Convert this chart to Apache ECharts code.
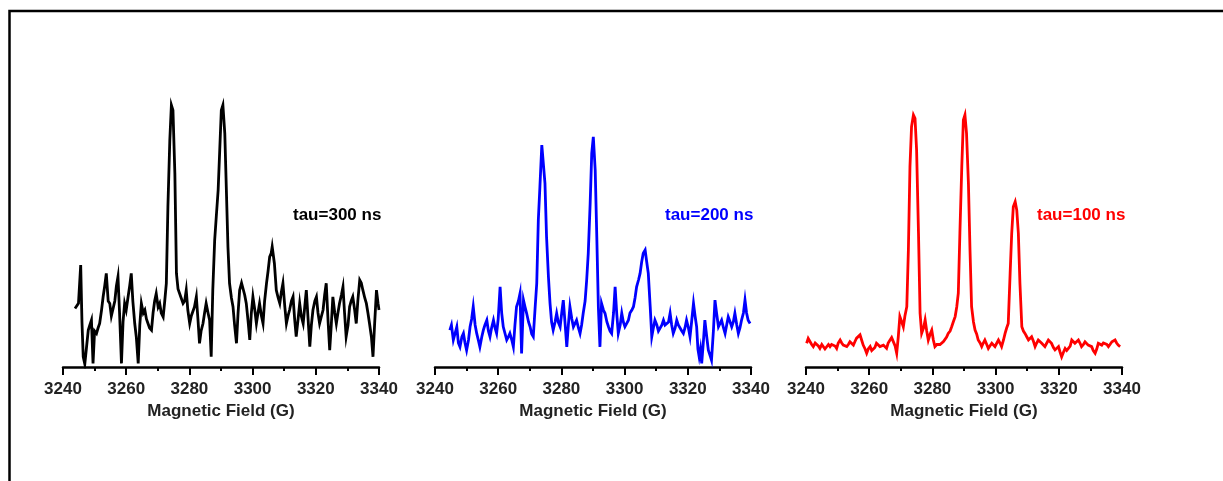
<!DOCTYPE html>
<html>
<head>
<meta charset="utf-8">
<script src="https://cdn.jsdelivr.net/npm/echarts@6/dist/echarts.min.js"></script>
<style>
html,body{margin:0;padding:0;background:#fff;}
#chart{width:1223px;height:481px;}
</style>
</head>
<body>
<div id="chart"></div>
<script>
// ---- Data ----
const xTicks = { min: 3240, max: 3340, interval: 20 };
const axisName = 'Magnetic Field (G)';
const tauLabels = ['tau=300 ns', 'tau=200 ns', 'tau=100 ns'];
const seriesColors = ['#000000', '#0000ff', '#ff0000'];

const field300 = [3243.8,3244.9,3245.6,3246.0,3246.4,3246.9,3248.0,3248.5,3249.0,3249.5,3250.0,3250.6,3251.1,3251.6,3252.2,3252.7,3253.2,3253.7,3254.3,3254.8,3255.3,3255.8,3256.4,3256.9,3257.4,3257.9,3258.5,3259.0,3259.5,3260.0,3260.6,3261.1,3261.6,3262.1,3262.7,3263.2,3263.8,3264.3,3264.8,3265.4,3265.9,3266.4,3266.9,3267.4,3268.0,3268.5,3269.0,3269.5,3270.1,3270.6,3271.1,3271.7,3272.2,3272.7,3273.2,3273.8,3274.3,3274.8,3275.4,3275.9,3276.4,3276.9,3277.4,3278.0,3278.5,3279.0,3279.5,3280.1,3280.6,3281.1,3281.6,3282.2,3282.7,3283.2,3283.7,3284.3,3284.8,3285.3,3285.9,3286.4,3286.9,3287.4,3288.0,3288.5,3289.1,3289.6,3290.1,3290.6,3291.2,3291.7,3292.2,3292.7,3293.3,3293.8,3294.3,3294.9,3295.4,3295.9,3296.5,3297.0,3297.5,3298.0,3298.6,3299.1,3299.6,3300.1,3300.7,3301.2,3301.7,3302.2,3302.8,3303.3,3303.8,3304.4,3304.9,3305.4,3305.9,3306.2,3306.9,3307.5,3308.1,3308.6,3309.1,3309.6,3310.2,3310.7,3311.2,3311.7,3312.3,3312.8,3313.3,3313.8,3314.4,3314.9,3315.4,3316.0,3316.5,3317.0,3317.5,3318.1,3318.6,3319.1,3319.7,3320.2,3320.7,3321.2,3321.8,3322.3,3322.8,3323.3,3323.9,3324.4,3324.9,3325.4,3326.0,3326.5,3327.0,3327.5,3328.1,3328.6,3329.1,3329.6,3330.2,3330.7,3331.2,3331.7,3332.3,3332.8,3333.3,3333.9,3334.4,3334.9,3335.5,3336.0,3336.5,3337.0,3337.6,3338.1,3338.6,3339.2,3339.7,3340.0];
const int300 = [19.5,21.2,34,15,3.4,1,12.3,14,15.6,1.2,12,11.2,13,14.5,19,23.4,27,31.2,22,21.2,17,16.7,22,27,30.1,18,1.2,15,21.2,19,23.4,27,31.2,22,14.5,10,1.2,14,21.2,18,19,16,14.5,13,12.3,18,22,24.5,20,21.2,18,16.7,22,27.9,53.4,75.6,87.3,85.6,64.5,31.2,26,25.6,23,21.2,22,25.6,19,14.5,17,16.7,20,23.4,16,7.9,12,14.5,18,21.2,18,15.6,3.4,25.6,42.3,50,59,72.3,85.6,87.3,77.9,59,40,27.9,23,20.1,14,7.9,18,25.6,28,27.9,24,21.2,15,9,18,23.4,19,14.5,18,21.2,17,14.5,22,27.9,32,36.7,38,40.1,34.5,25.6,23,21.2,25,27.9,20,14.5,17,19,22,23.4,16,10.1,16,21.2,17,14.5,20,25.6,17,6.8,14,19,22,23.4,18,14.5,17,19,24,27.9,15,5.6,14,23.4,18,14.5,18,21.2,24,26.7,18,10.1,14,20.1,22,23.4,19,14.5,22,29,28,25.6,23,21.2,18,14.5,10,3.4,14,25.6,21.2,19];

const field200 = [3244.7,3245.2,3245.8,3246.3,3246.9,3247.4,3247.9,3248.5,3249.0,3249.5,3250.0,3250.6,3251.1,3251.6,3252.1,3252.7,3253.2,3253.7,3254.2,3254.8,3255.3,3255.8,3256.4,3256.9,3257.4,3257.9,3258.5,3259.0,3259.5,3260.0,3260.6,3261.1,3261.6,3262.2,3262.7,3263.2,3263.7,3264.3,3264.8,3265.3,3265.8,3266.4,3266.9,3267.4,3268.0,3268.5,3269.0,3269.6,3270.1,3270.6,3271.1,3271.7,3272.2,3272.7,3273.2,3273.8,3274.3,3274.8,3275.3,3275.9,3276.4,3276.9,3277.4,3278.0,3278.5,3279.0,3279.6,3280.1,3280.6,3281.2,3281.7,3282.2,3282.7,3283.3,3283.8,3284.3,3284.8,3285.4,3285.9,3286.4,3286.9,3287.5,3288.0,3288.5,3289.1,3289.6,3290.1,3290.7,3291.2,3291.7,3292.2,3292.7,3293.3,3293.8,3294.4,3294.9,3295.4,3295.9,3296.5,3297.0,3297.5,3298.0,3298.6,3299.1,3299.6,3300.1,3300.7,3301.2,3301.7,3302.3,3302.8,3303.3,3303.8,3304.4,3304.9,3305.4,3305.9,3306.5,3307.0,3307.5,3308.1,3308.6,3309.1,3309.6,3310.2,3310.7,3311.2,3311.8,3312.3,3312.8,3313.3,3313.9,3314.4,3314.9,3315.4,3316.0,3316.5,3317.0,3317.5,3318.1,3318.6,3319.1,3319.6,3320.2,3320.7,3321.2,3321.8,3322.3,3322.8,3323.2,3323.6,3324.0,3324.4,3324.9,3325.4,3326.0,3326.5,3327.0,3327.5,3328.1,3328.6,3329.1,3329.7,3330.2,3330.7,3331.3,3331.8,3332.3,3332.8,3333.4,3333.9,3334.4,3334.9,3335.5,3336.0,3336.5,3337.0,3337.6,3338.1,3338.6,3339.1,3339.7];
const int200 = [12.3,14,9,11,13.4,8,6.7,10,11.2,8,5.6,9,13.4,16,20.1,14,11.2,9,6.7,10,12.3,14,15.6,12,10.1,13,15.6,13,11.2,16,26.7,18,13.4,11,9,10,11.2,9,6.7,14,20.1,22,24.5,4.5,22.3,20,17.9,15,13.4,11,10.1,20,27.9,49,60.1,74,74.5,61.2,43.4,30,21.2,15,12.3,15,17.9,15,13.4,18,22.3,14,6.7,14,20.1,16,13.4,14,15.6,13,11.2,14,17.9,22,29,37.9,54.5,71.2,76.7,65.6,43.4,20,6.7,21.2,19,17.9,15,13.4,12,11.2,18,26.7,18,11.2,14,17.9,15,13.4,14,15.6,18,19,20.1,23,26.7,29,31.2,35,37.9,39,35,31.2,20.1,10.1,13,15.6,14,12,12.3,14,15.6,14,13.4,15,17.9,14,11.2,13,15.6,14,13.4,12,11.2,13,15.6,13,10.1,15,21.2,17,13.4,6,3.4,6,1.2,8,15.6,10,5.6,4,2.3,12,22.3,18,13.4,14,15.6,13,11.2,14,16.7,15,13.4,15,17.9,14,11.2,13,15.6,18,22.3,18,15.6,14.5];

const field100 = [3240.2,3240.7,3241.3,3241.8,3242.3,3242.9,3243.4,3243.9,3244.4,3245.0,3245.5,3246.0,3246.5,3247.1,3247.6,3248.1,3248.6,3249.2,3249.7,3250.2,3250.8,3251.3,3251.8,3252.3,3252.9,3253.4,3253.9,3254.5,3255.0,3255.5,3256.0,3256.6,3257.1,3257.6,3258.1,3258.7,3259.2,3259.7,3260.3,3260.8,3261.3,3261.8,3262.3,3262.9,3263.4,3263.9,3264.5,3265.0,3265.5,3266.0,3266.6,3267.1,3267.6,3268.2,3268.7,3269.2,3269.7,3270.3,3270.8,3271.3,3271.9,3272.4,3272.9,3273.4,3274.0,3274.5,3275.0,3275.6,3276.1,3276.6,3277.2,3277.7,3278.2,3278.7,3279.3,3279.8,3280.3,3280.8,3281.4,3281.9,3282.4,3282.9,3283.5,3284.0,3284.5,3285.0,3285.6,3286.1,3286.6,3287.2,3287.7,3288.2,3288.7,3289.3,3289.8,3290.3,3290.8,3291.4,3291.9,3292.4,3293.0,3293.5,3294.0,3294.5,3295.1,3295.6,3296.1,3296.6,3297.2,3297.7,3298.2,3298.8,3299.3,3299.8,3300.4,3300.9,3301.4,3301.9,3302.5,3303.0,3303.5,3304.0,3304.6,3305.1,3305.6,3306.2,3306.7,3307.2,3307.7,3308.3,3308.8,3309.3,3309.9,3310.4,3310.9,3311.4,3312.0,3312.5,3313.0,3313.5,3314.1,3314.6,3315.1,3315.6,3316.2,3316.7,3317.2,3317.7,3318.3,3318.8,3319.3,3319.9,3320.4,3320.9,3321.5,3322.0,3322.5,3323.0,3323.6,3324.1,3324.6,3325.1,3325.7,3326.2,3326.7,3327.2,3327.8,3328.3,3328.8,3329.3,3329.9,3330.4,3330.9,3331.5,3332.0,3332.5,3333.1,3333.6,3334.1,3334.6,3335.2,3335.7,3336.2,3336.8,3337.3,3337.8,3338.3,3338.8,3339.4];
const int100 = [7.9,9.5,9,7.5,6.8,8,8.4,7,6.2,7.5,7.3,6,6.2,7.5,6.8,7.5,7.9,7,6.2,8,9,8,7.3,7,6.8,7.5,8.4,7.8,7.3,8.5,9.6,10,10.7,9,7.3,6,4.6,6,6.8,5.5,5.1,6.5,7.9,7.3,6.8,7,7.3,6.8,6.2,8,9,9.8,10.1,7,4.6,10,16.8,15,13.4,17,20.1,39,66.8,80.1,84,82.9,72.3,44.6,17.9,11.2,13,15.7,12,9,11,12.3,9,6.8,7.5,7.9,7.5,7.3,8.5,9,10,11.2,12,13.4,15,16.8,20,24.6,44.6,66.8,82.3,84,77.9,61.2,39,20.1,15,12.3,11,9,8,6.8,8,9,7.5,6.2,7,7.9,7.3,6.8,8,9,8,6.8,9,11.2,13,14.5,31.2,44.6,53.4,55.1,52.3,44.6,27.9,13.4,12,11.2,10,9,9.5,10.1,8.5,6.8,8,9,8.5,7.9,7.5,6.8,8,9,8.5,7.9,6.5,5.7,6.2,6.8,5,3.4,5,6.2,5.5,5.1,7,9,8.5,7.9,8.5,9,8,6.8,7.5,8.4,7.9,7.3,7,6.8,5.5,4.6,6,7.9,7.5,7.3,8,8.4,7.5,6.8,7.5,8.4,8.8,9,8,7.3,6.8];

const fields = [field300, field200, field100];
const intensities = [int300, int200, int100];

// ---- Layout / style ----
const gridLefts = [63, 435, 806];
const gridWidth = 316;
const gridTop = 67;
const gridHeight = 300;
const labelPos = [[293, 216], [665, 216], [1037, 216]];
const fontFamily = '"Liberation Sans", Arial, sans-serif';

const chart = echarts.init(document.getElementById('chart'), null, { renderer: 'canvas' });

const grids = [], xAxes = [], yAxes = [], series = [], graphics = [];
for (let i = 0; i < 3; i++) {
  grids.push({ left: gridLefts[i], top: gridTop, width: gridWidth, height: gridHeight, containLabel: false });
  xAxes.push({
    type: 'value', gridIndex: i,
    min: xTicks.min, max: xTicks.max, interval: xTicks.interval,
    name: axisName, nameLocation: 'middle', nameGap: 34,
    nameTextStyle: { fontFamily, fontSize: 17, fontWeight: 'bold', color: '#222' },
    axisLine: { show: true, onZero: false, lineStyle: { color: '#000', width: 2.5 } },
    axisTick: { show: true, inside: false, length: 8, lineStyle: { color: '#000', width: 2 } },
    minorTick: { show: true, splitNumber: 2, length: 4, lineStyle: { color: '#000', width: 2 } },
    splitLine: { show: false },
    minorSplitLine: { show: false },
    axisLabel: { margin: 14, fontFamily, fontSize: 17, fontWeight: 'bold', color: '#222', showMinLabel: true, showMaxLabel: true, formatter: v => String(v) }
  });
  yAxes.push({ type: 'value', gridIndex: i, min: 0, max: 100, show: false });
  series.push({
    type: 'line', xAxisIndex: i, yAxisIndex: i,
    data: fields[i].map((f, k) => [f, intensities[i][k]]),
    showSymbol: false, symbol: 'none', smooth: false,
    lineStyle: { color: seriesColors[i], width: 2.8, join: 'miter' },
    animation: false
  });
  graphics.push({
    type: 'text', left: labelPos[i][0], top: labelPos[i][1] - 9,
    style: { text: tauLabels[i], fill: seriesColors[i], font: 'bold 17px ' + fontFamily }
  });
}
graphics.push({
  type: 'rect', shape: { x: 9.5, y: 11, width: 1400, height: 700 },
  style: { fill: 'none', stroke: '#000', lineWidth: 2.5 }, silent: true
});

chart.setOption({
  backgroundColor: '#fff',
  animation: false,
  grid: grids,
  xAxis: xAxes,
  yAxis: yAxes,
  series: series,
  graphic: graphics
});
</script>
</body>
</html>
